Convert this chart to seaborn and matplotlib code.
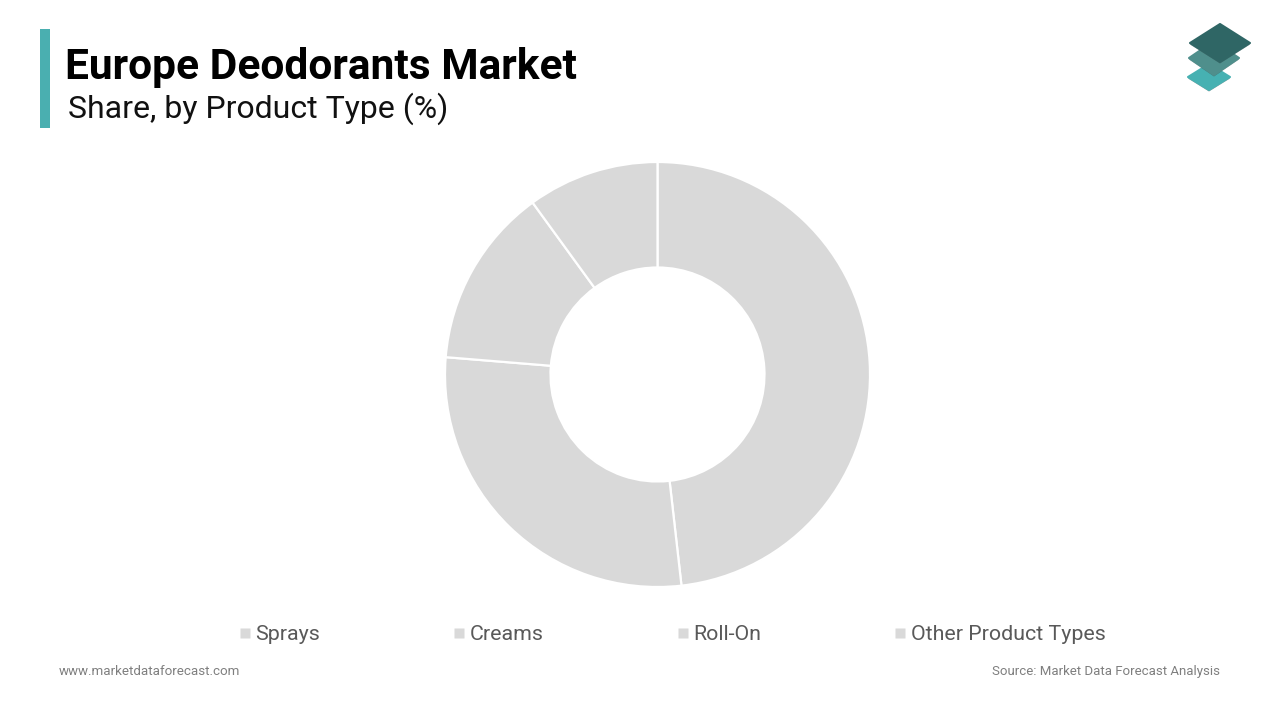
import matplotlib
matplotlib.use("Agg")
import matplotlib.pyplot as plt
from matplotlib.patches import Rectangle, Polygon
from matplotlib.lines import Line2D
import seaborn as sns

categories = ["Sprays", "Creams", "Roll-On", "Other Product Types"]
shares = [48.2, 28.1, 13.7, 10.0]
title = "Europe Deodorants Market"
subtitle = "Share, by Product Type (%)"
site = "www.marketdataforecast.com"
source = "Source: Market Data Forecast Analysis"

W, H = 1280, 720
sns.set_theme(style="white")
plt.rcParams["font.family"] = ["Roboto", "DejaVu Sans"]
GREY = "#d9d9d9"
palette = sns.color_palette([GREY] * len(categories))

fig = plt.figure(figsize=(W / 100, H / 100), dpi=100, facecolor="white")

def fx(x): return x / W
def fy(y): return 1 - y / H

R = 212.5
cx, cy = 657.5, 374.5
ax = fig.add_axes([fx(cx - R * 1.02), fy(cy + R * 1.02), 2 * R * 1.02 / W, 2 * R * 1.02 / H])
ax.pie(shares, colors=palette, startangle=90, counterclock=False, radius=1,
       wedgeprops=dict(width=1 - 107 / 212.5, edgecolor="white", linewidth=1.6))
ax.set_xlim(-1.02, 1.02)
ax.set_ylim(-1.02, 1.02)
ax.set_aspect("equal")
ax.axis("off")

fig.add_artist(Rectangle((fx(40), fy(128)), 10 / W, 99 / H, transform=fig.transFigure,
                         facecolor="#4aafb0", edgecolor="none"))
fig.text(fx(65), fy(79), title, fontsize=30.65, fontweight="bold", color="#000000", va="baseline")
fig.text(fx(67.5), fy(118), subtitle, fontsize=23, color="#111111", va="baseline")
fig.text(fx(59), fy(675), site, fontsize=9.6, color="#7f7f7f", va="baseline")
fig.text(fx(1220), fy(675), source, fontsize=9.55, color="#7f7f7f", va="baseline", ha="right")

handles = [Line2D([], [], linestyle="none", marker="s", markersize=7.2,
                  markerfacecolor=c, markeredgecolor="none") for c in palette]
fig.legend(handles, categories, ncol=4, frameon=False, loc="center left",
           bbox_to_anchor=(fx(229), fy(635)), fontsize=15.4, labelcolor="#595959",
           columnspacing=5.75, handletextpad=-0.26, handlelength=1.5, borderpad=0, borderaxespad=0)

layers = [((1209, 77), 21, 13, "#46b1b2"), ((1214, 58), 25, 17, "#4f8f8c"), ((1220, 43), 30, 19, "#2f6665")]
for (x, y), a, b, col in layers:
    pts = [(x - a, y), (x, y - b), (x + a, y), (x, y + b)]
    shadow = [(px, py + 1.5) for px, py in pts]
    fig.add_artist(Polygon([(fx(p), fy(q)) for p, q in shadow], closed=True, transform=fig.transFigure,
                           facecolor="#3d5a5a", edgecolor="none", alpha=0.6))
    fig.add_artist(Polygon([(fx(p), fy(q)) for p, q in pts], closed=True, transform=fig.transFigure,
                           facecolor=col, edgecolor=col, linewidth=1.5, joinstyle="round"))

fig.savefig("out.png", dpi=100, facecolor="white")
